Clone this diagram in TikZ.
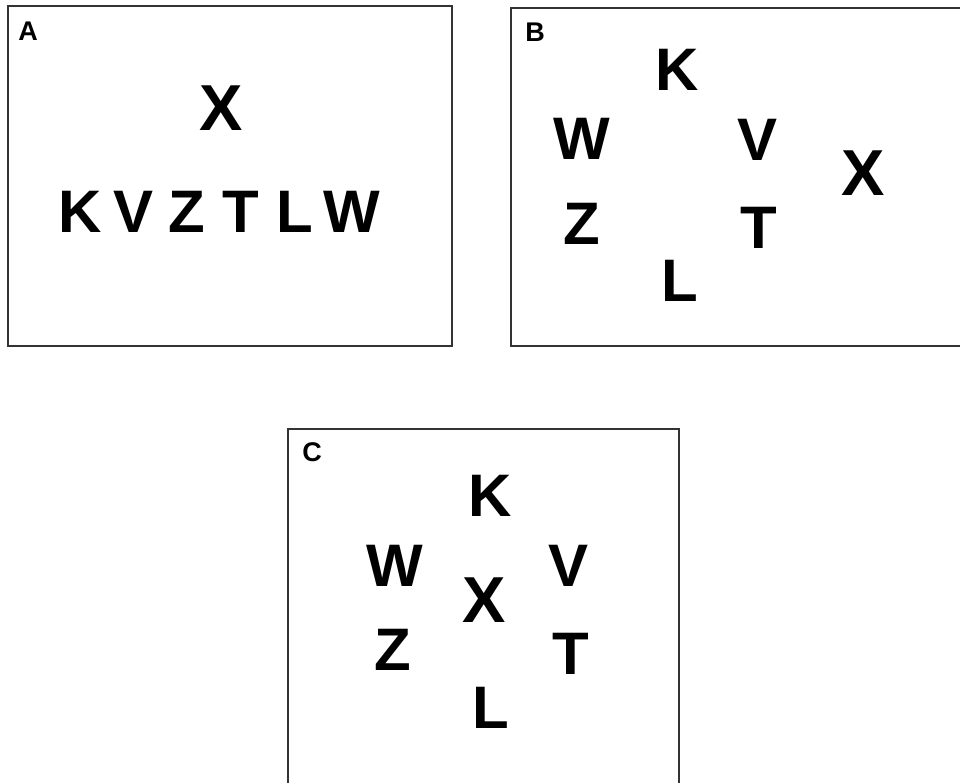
\documentclass[tikz,border=0pt]{standalone}
\usepackage{fontspec}
\setmainfont{Liberation Sans}
\begin{document}
\begin{tikzpicture}[x=1pt,y=-1pt,
  panel/.style={draw=black!80,line width=1.6pt},
  tag/.style={inner sep=0pt,font=\bfseries\fontsize{27}{30}\selectfont},
  letter/.style={inner sep=0pt,font=\bfseries\fontsize{60}{70}\selectfont},
  bigx/.style={inner sep=0pt,font=\bfseries\fontsize{65}{75}\selectfont}]
\useasboundingbox (0,0) rectangle (960,782);
\clip (0,0) rectangle (960,782);
% panels
\draw[panel] (8,6) rectangle (452,346);
\draw[panel] (511,8) rectangle (975,346);
\draw[panel] (288,429) rectangle (679,800);
% panel A
\node[tag] (tA) at (28,31) {A};
\node[bigx] (aX) at (221,108) {X};
\node[letter] (aK) at (80,212) {K};
\node[letter] (aV) at (134,212) {V};
\node[letter] (aZ) at (187,212) {Z};
\node[letter] (aT) at (241,212) {T};
\node[letter] (aL) at (295,212) {L};
\node[letter] (aW) at (352,212) {W};
% panel B
\node[tag] (tB) at (535,32) {B};
\node[letter] (bK) at (677,70) {K};
\node[letter] (bW) at (582,139) {W};
\node[letter] (bV) at (757,140) {V};
\node[bigx] (bX) at (863,173) {X};
\node[letter] (bZ) at (582,224) {Z};
\node[letter] (bT) at (759,228) {T};
\node[letter] (bL) at (680,281) {L};
% panel C
\node[tag] (tC) at (312,452) {C};
\node[letter] (cK) at (490,496) {K};
\node[letter] (cW) at (395,566) {W};
\node[letter] (cV) at (569,566) {V};
\node[bigx] (cX) at (484,600) {X};
\node[letter] (cZ) at (393,650) {Z};
\node[letter] (cT) at (571,654) {T};
\node[letter] (cL) at (491,708) {L};
\end{tikzpicture}
\end{document}
